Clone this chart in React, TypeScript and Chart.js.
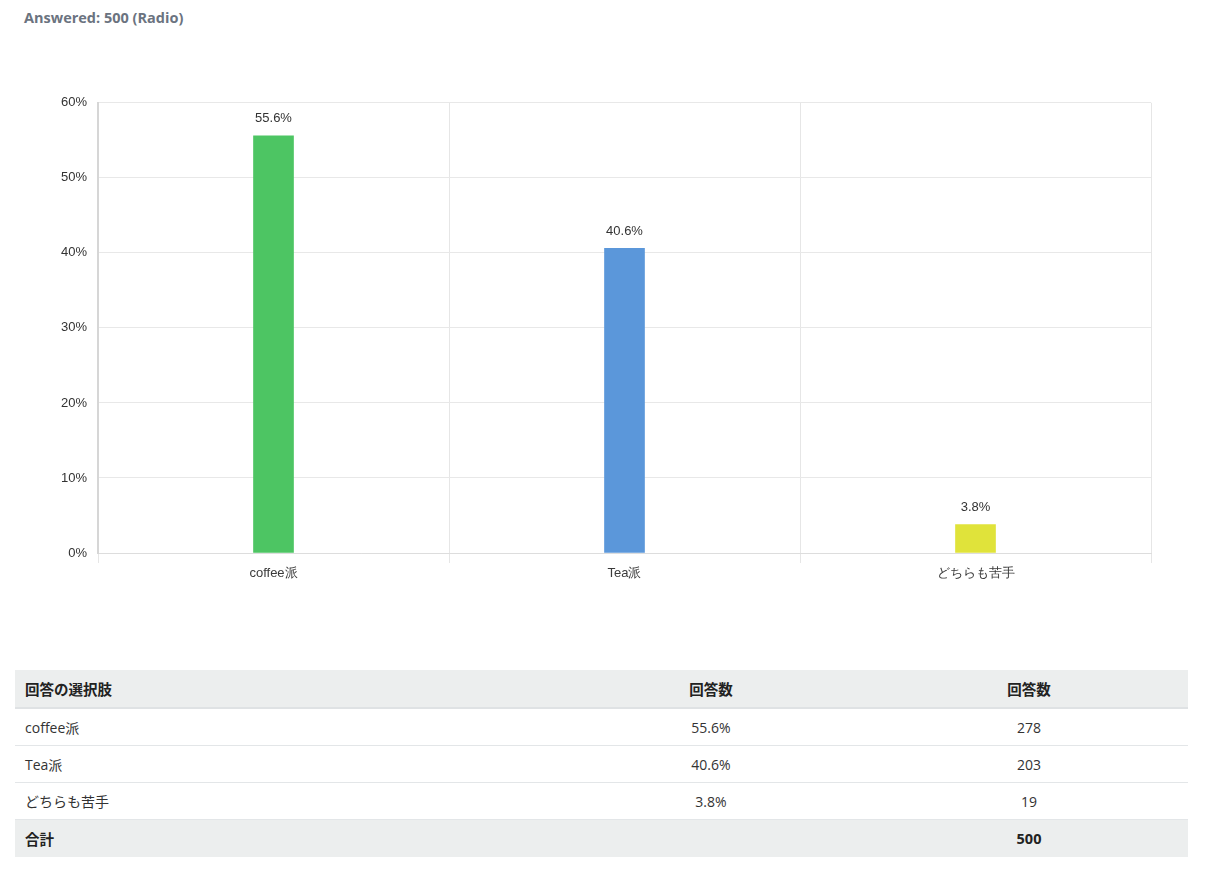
import React, { useEffect, useRef } from "react";
import { Chart, registerables } from "chart.js";

Chart.register(...registerables);

const categories = ["coffee派", "Tea派", "どちらも苦手"];
const percentValues = [55.6, 40.6, 3.8];
const counts = [278, 203, 19];
const total = 500;
const barColors = ["#4dc563", "#5b97da", "#e0e33a"];
const yTicks = [0, 10, 20, 30, 40, 50, 60];

const chartFont = "'Liberation Sans', Arial, sans-serif";
const uiFont = "'Open Sans', 'Noto Sans CJK JP', sans-serif";

const valueLabelPlugin = {
  id: "valueLabels",
  afterDatasetsDraw(chart: any) {
    const ctx = chart.ctx;
    const meta = chart.getDatasetMeta(0);
    ctx.save();
    ctx.font = `13px ${chartFont}`;
    ctx.fillStyle = "#333333";
    ctx.textAlign = "center";
    ctx.textBaseline = "middle";
    meta.data.forEach((el: any, i: number) => {
      ctx.fillText(percentValues[i].toFixed(1) + "%", el.x, el.y - 17);
    });
    ctx.restore();
  },
};

function BarChart() {
  const ref = useRef<HTMLCanvasElement | null>(null);
  useEffect(() => {
    if (!ref.current) return;
    const chart = new Chart(ref.current, {
      type: "bar",
      data: {
        labels: categories,
        datasets: [
          {
            data: percentValues,
            backgroundColor: barColors,
            borderWidth: 0,
            barThickness: 40,
          },
        ],
      },
      options: {
        animation: false,
        responsive: false,
        maintainAspectRatio: false,
        layout: { padding: { top: 12, right: 37, left: 0, bottom: 0 } },
        plugins: {
          legend: { display: false },
          tooltip: { enabled: false },
        },
        scales: {
          x: {
            grid: {
              display: true,
              offset: true,
              color: "#e6e6e6",
              drawTicks: true,
              tickLength: 10,
            },
            border: { display: true, color: "#dddddd" },
            ticks: {
              font: { family: chartFont, size: 13 },
              color: "#3a3a3a",
              padding: 3,
              maxRotation: 0,
            },
            afterFit(scale: any) {
              scale.height = 40;
            },
          },
          y: {
            min: 0,
            max: 60,
            afterBuildTicks(scale: any) {
              scale.ticks = yTicks.map((v) => ({ value: v }));
            },
            grid: { color: "#e8e8e8", drawTicks: false },
            border: { display: true, color: "#d6d6d6", width: 2 },
            ticks: {
              font: { family: chartFont, size: 13 },
              color: "#333333",
              padding: 11,
              callback: (v: any) => v + "%",
            },
            afterFit(scale: any) {
              scale.width = 83;
            },
          },
        },
      },
      plugins: [valueLabelPlugin],
    });
    return () => chart.destroy();
  }, []);
  return (
    <canvas
      ref={ref}
      width={1173}
      height={509}
      style={{ position: "absolute", left: 15, top: 84, width: 1173, height: 509 }}
    />
  );
}

const cellBase: React.CSSProperties = {
  height: 36,
  padding: "0 10px",
  fontSize: 14,
  color: "#333333",
  verticalAlign: "middle",
};

const headCell: React.CSSProperties = {
  ...cellBase,
  fontSize: 14.5,
  fontWeight: 700,
  color: "#222222",
};

export default function App() {
  return (
    <div
      style={{
        position: "absolute",
        left: 0,
        top: 0,
        width: 1206,
        height: 874,
        background: "#ffffff",
        fontFamily: uiFont,
      }}
    >
      <div
        style={{
          position: "absolute",
          left: 24,
          top: 7,
          fontSize: 14.5,
          fontWeight: 700,
          color: "#6b7380",
          lineHeight: "22px",
        }}
      >
        Answered: {total} (Radio)
      </div>
      <BarChart />
      <table
        style={{
          position: "absolute",
          left: 15,
          top: 670,
          width: 1173,
          borderCollapse: "collapse",
          tableLayout: "fixed",
        }}
      >
        <colgroup>
          <col style={{ width: 537 }} />
          <col style={{ width: 318 }} />
          <col style={{ width: 318 }} />
        </colgroup>
        <thead>
          <tr style={{ background: "#eceeee", borderBottom: "2px solid #dfe2e4" }}>
            <th style={{ ...headCell, height: 37, textAlign: "left" }}>回答の選択肢</th>
            <th style={{ ...headCell, height: 37, textAlign: "center" }}>回答数</th>
            <th style={{ ...headCell, height: 37, textAlign: "center" }}>回答数</th>
          </tr>
        </thead>
        <tbody>
          {categories.map((c, i) => (
            <tr key={c} style={{ borderBottom: "1px solid #e3e6e8" }}>
              <td style={{ ...cellBase, textAlign: "left" }}>{c}</td>
              <td style={{ ...cellBase, textAlign: "center" }}>{percentValues[i].toFixed(1)}%</td>
              <td style={{ ...cellBase, textAlign: "center" }}>{counts[i]}</td>
            </tr>
          ))}
          <tr style={{ background: "#eceeee" }}>
            <td style={{ ...headCell, height: 37, textAlign: "left" }}>合計</td>
            <td style={{ ...cellBase, height: 37 }}></td>
            <td style={{ ...headCell, height: 37, textAlign: "center" }}>{total}</td>
          </tr>
        </tbody>
      </table>
    </div>
  );
}
